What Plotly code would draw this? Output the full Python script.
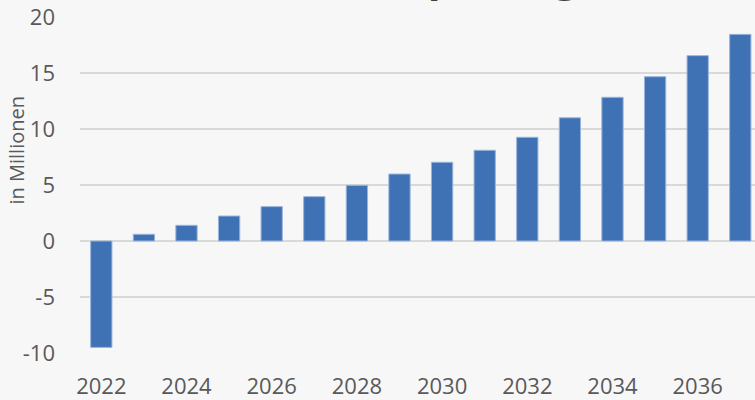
import plotly.graph_objects as go

years = list(range(2022, 2038))
values = [-9.5, 0.6, 1.4, 2.23, 3.07, 3.96, 4.97, 5.98, 7.03, 8.1, 9.26, 11.0, 12.83, 14.67, 16.55, 18.45]
x_ticks = [2022, 2024, 2026, 2028, 2030, 2032, 2034, 2036]
y_ticks = [-10, -5, 0, 5, 10, 15, 20]
title_text = "Kumulierte Einsparung"
y_title = "in Millionen"

W, H = 755, 400
L, R, T, B = 80, 0, 17, 47
pw, ph = W - L - R, H - T - B

fig = go.Figure(go.Bar(
    x=years, y=values,
    marker=dict(color="#3f72b5", line=dict(color="#9bb5da", width=1)),
    width=0.5,
))

fig.update_layout(
    width=W, height=H,
    margin=dict(l=L, r=R, t=T, b=B, pad=0),
    paper_bgcolor="#f7f7f7", plot_bgcolor="#f7f7f7",
    showlegend=False,
    font=dict(family="Open Sans", color="#595959"),
    xaxis=dict(
        range=[2021.5, 2021.5 + pw / 42.6],
        tickvals=x_ticks, ticktext=[str(t) for t in x_ticks],
        showgrid=False, zeroline=False, showline=False, ticks="",
        tickfont=dict(size=22, color="#595959"),
        ticklabelstandoff=18,
    ),
    yaxis=dict(
        range=[-10, 20], tickvals=y_ticks,
        ticktext=[str(t) for t in y_ticks],
        showgrid=True, gridcolor="#d9d9d9", gridwidth=2,
        zeroline=False, showline=False, ticks="",
        tickfont=dict(size=22, color="#595959"),
        ticklabelstandoff=24,
    ),
    annotations=[
        dict(text=y_title, textangle=-90, xref="paper", yref="paper",
             x=(16 - L) / pw, y=(H - B - 150.5) / ph, xanchor="center", yanchor="middle",
             showarrow=False, font=dict(size=20, color="#595959")),
        dict(text="<b>" + title_text + "</b>", xref="paper", yref="paper",
             x=(580 - L) / pw, y=1 + (T - 5.5) / ph, xanchor="right", yanchor="bottom",
             showarrow=False, font=dict(size=42, color="#404040")),
    ],
)

fig.write_html("out.html", config={"displayModeBar": False},
               post_script="document.body.style.margin='0';document.body.style.padding='0';")
